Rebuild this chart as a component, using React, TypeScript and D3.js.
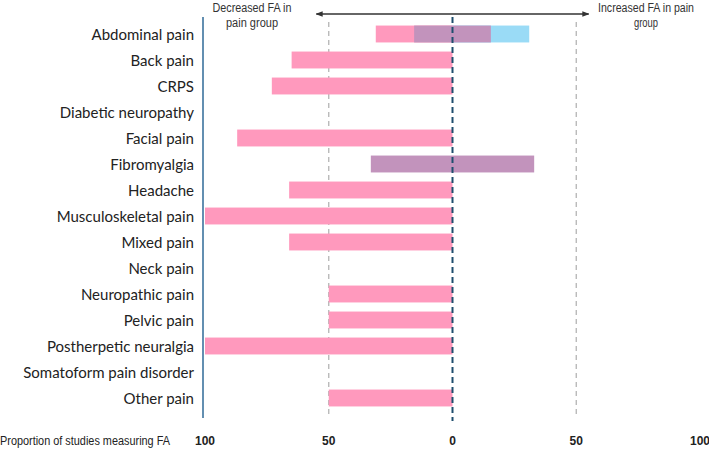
import React from "react";
import * as d3 from "d3";

// Pain categories, top to bottom
const categories = [
  "Abdominal pain",
  "Back pain",
  "CRPS",
  "Diabetic neuropathy",
  "Facial pain",
  "Fibromyalgia",
  "Headache",
  "Musculoskeletal pain",
  "Mixed pain",
  "Neck pain",
  "Neuropathic pain",
  "Pelvic pain",
  "Postherpetic neuralgia",
  "Somatoform pain disorder",
  "Other pain",
];

// Proportion (%) of studies reporting decreased FA (extends left of 0)
const decreased = [31, 65, 73, 0, 87, 0, 66, 100, 66, 0, 50, 50, 100, 0, 50];
// Half-width (%) of the mixed-result band, centred on 0
const mixed = [15.5, 0, 0, 0, 0, 33, 0, 0, 0, 0, 0, 0, 0, 0, 0];
// Proportion (%) of studies reporting increased FA (extends right of 0)
const increased = [31, 0, 0, 0, 0, 0, 0, 0, 0, 0, 0, 0, 0, 0, 0];

// Axis ticks: signed position and printed label
const tickValues = [-100, -50, 0, 50, 100];
const tickLabels = ["100", "50", "0", "50", "100"];
const gridValues = [-50, 50];

const W = 709;
const H = 450;

const PINK = "#FF99BD";
const PURPLE = "#C293BC";
const BLUE = "#9ADBF6";
const NARROW = "'Liberation Sans Narrow', 'Arial Narrow', 'Liberation Sans', sans-serif";
const LABEL_FONT = "Lato, 'Open Sans', sans-serif";

export default function App() {
  const x = d3.scaleLinear().domain([-100, 100]).range([205, 700]);
  const y = d3
    .scaleBand<string>()
    .domain(categories)
    .range([21, 411])
    .paddingInner(0.35)
    .paddingOuter(0.175);
  const bw = y.bandwidth();

  const arrowY = 14;

  return (
    <svg
      width={W}
      height={H}
      style={{ position: "absolute", left: 0, top: 0, background: "#fff" }}
    >
      <defs>
        <marker
          id="arrowHead"
          viewBox="0 0 10 10"
          refX="9"
          refY="5"
          markerWidth="5"
          markerHeight="5"
          orient="auto-start-reverse"
        >
          <path d="M0,1 L10,5 L0,9 z" fill="#333" />
        </marker>
      </defs>

      {/* Direction arrow and captions */}
      <line
        x1={x(-55)}
        x2={x(55)}
        y1={arrowY}
        y2={arrowY}
        stroke="#333"
        strokeWidth={1.4}
        markerStart="url(#arrowHead)"
        markerEnd="url(#arrowHead)"
      />
      <g fontFamily={NARROW} fontSize={12} fill="#333" textAnchor="middle">
        <text x={252} y={12} textLength={79} lengthAdjust="spacingAndGlyphs">
          Decreased FA in
        </text>
        <text x={252} y={27} textLength={52} lengthAdjust="spacingAndGlyphs">
          pain group
        </text>
        <text x={646} y={12} textLength={96} lengthAdjust="spacingAndGlyphs">
          Increased FA in pain
        </text>
        <text x={646} y={27} textLength={24} lengthAdjust="spacingAndGlyphs">
          group
        </text>
      </g>

      {/* 50% reference lines */}
      {gridValues.map((v) => (
        <line
          key={v}
          x1={x(v)}
          x2={x(v)}
          y1={22}
          y2={414}
          stroke="#B4B4B4"
          strokeWidth={1.3}
          strokeDasharray="5 4"
        />
      ))}

      {/* Bars */}
      {categories.map((c, i) => {
        const top = y(c) as number;
        return (
          <g key={c}>
            {decreased[i] > 0 && (
              <rect
                x={x(-decreased[i])}
                y={top}
                width={x(0) - x(-decreased[i])}
                height={bw}
                fill={PINK}
              />
            )}
            {increased[i] > 0 && (
              <rect
                x={x(0)}
                y={top}
                width={x(increased[i]) - x(0)}
                height={bw}
                fill={BLUE}
              />
            )}
            {mixed[i] > 0 && (
              <rect
                x={x(-mixed[i])}
                y={top}
                width={x(mixed[i]) - x(-mixed[i])}
                height={bw}
                fill={PURPLE}
              />
            )}
          </g>
        );
      })}

      {/* Zero line */}
      <line
        x1={x(0)}
        x2={x(0)}
        y1={17}
        y2={421}
        stroke="#1F4E6E"
        strokeWidth={2}
        strokeDasharray="6 4"
      />

      {/* Left category axis */}
      <line
        x1={203}
        x2={203}
        y1={17}
        y2={418}
        stroke="#2F6A97"
        strokeWidth={1.5}
      />
      {categories.map((c) => (
        <text
          key={c}
          x={194}
          y={(y(c) as number) + bw / 2 + 6.3}
          textAnchor="end"
          fontFamily={LABEL_FONT}
          fontSize={15}
          fill="#222"
        >
          {c}
        </text>
      ))}

      {/* Bottom scale */}
      <text
        x={0}
        y={445}
        fontFamily={NARROW}
        fontSize={12}
        fill="#222"
        textLength={170}
        lengthAdjust="spacingAndGlyphs"
      >
        Proportion of studies measuring FA
      </text>
      {tickValues.map((v, i) => (
        <text
          key={i}
          x={x(v)}
          y={445}
          textAnchor="middle"
          fontFamily={NARROW}
          fontSize={12}
          fontWeight="bold"
          fill="#222"
        >
          {tickLabels[i]}
        </text>
      ))}
    </svg>
  );
}
